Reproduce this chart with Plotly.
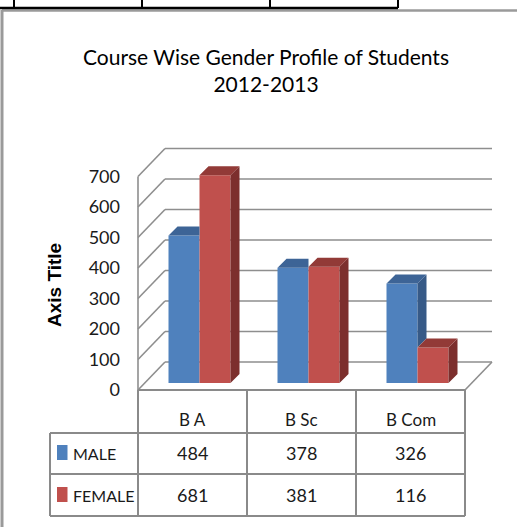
import plotly.graph_objects as go

# ---------------- data ----------------
categories = ["B A", "B Sc", "B Com"]
series_names = ["MALE", "FEMALE"]
male = [484, 378, 326]
female = [681, 381, 116]
y_ticks = [0, 100, 200, 300, 400, 500, 600, 700]
title_text = "Course Wise Gender Profile of Students<br>2012-2013"
axis_title = "Axis Title"

# ---------------- styles / geometry ----------------
NARROW = "Lato, Roboto, sans-serif"
BOLD_SANS = "Liberation Sans, Arial, sans-serif"
BLUE, BLUE_SIDE, BLUE_TOP = "#4F81BD", "#375A87", "#3D6496"
RED, RED_SIDE, RED_TOP = "#C0504D", "#7C2F2D", "#923A37"
GRID = "#8E8E8E"
TABLE = "#8A8A8A"
TXT = "#1a1a1a"

FIG_W, FIG_H = 517, 527
L, R, T, B = 124, 505, 140, 395
W, H = R - L, B - T
PX_PER_CAT = 109.0
PX_PER_VAL = 0.305
X0_PX = 138      # pixel of category edge -0.5
Y0_PX = 390      # pixel of value 0 on the front plane
xmin = -0.5 - (X0_PX - L) / PX_PER_CAT
xmax = xmin + W / PX_PER_CAT
ymin = -(B - Y0_PX) / PX_PER_VAL
ymax = ymin + H / PX_PER_VAL


def dx(p):
    return p / PX_PER_CAT


def dy(p):
    return p / PX_PER_VAL


def pxx(p):
    return (p - L) / W


def pxy(p):
    return (B - p) / H


DX, DY = dx(27), dy(28)          # depth of the 3-D box
SX, SY = dx(7), dy(7)            # front face of bars inside the box
BW = dx(31)                      # bar width
BDX, BDY = dx(9), dy(9)          # bar depth

n = len(categories)
fig = go.Figure()

# front faces
fig.add_trace(go.Bar(x=[i + SX for i in range(n)], y=male, base=SY, width=BW, offset=-BW,
                     marker=dict(color=BLUE, line=dict(width=0)), name=series_names[0],
                     showlegend=False))
fig.add_trace(go.Bar(x=[i + SX for i in range(n)], y=female, base=SY, width=BW, offset=0,
                     marker=dict(color=RED, line=dict(width=0)), name=series_names[1],
                     showlegend=False))


def poly_trace(xs, ys, color):
    return go.Scatter(x=xs, y=ys, mode="lines", fill="toself", fillcolor=color,
                      line=dict(width=0, color=color), hoverinfo="skip",
                      showlegend=False, cliponaxis=False)


# male side + top faces
msx, msy, mtx, mty = [], [], [], []
for i in range(n):
    xl = i + SX - BW
    xr = i + SX
    mv, fv = male[i], female[i]
    t = SY + mv
    if mv > fv:
        msx += [xr, xr + BDX, xr + BDX, xr, xr, None]
        msy += [SY + fv, SY + fv + BDY, t + BDY, t, SY + fv, None]
        mtx += [xl, xr, xr + BDX, xl + BDX, xl, None]
        mty += [t, t, t + BDY, t + BDY, t, None]
    else:
        mtx += [xl, xr, xr, xl + BDX, xl, None]
        mty += [t, t, t + BDY, t + BDY, t, None]
fig.add_trace(poly_trace(msx, msy, BLUE_SIDE))
fig.add_trace(poly_trace(mtx, mty, BLUE_TOP))

# female side + top faces
fsx, fsy, ftx, fty = [], [], [], []
for i in range(n):
    xl = i + SX
    xr = i + SX + BW
    t = SY + female[i]
    fsx += [xr, xr + BDX, xr + BDX, xr, xr, None]
    fsy += [SY, SY + BDY, t + BDY, t, SY, None]
    ftx += [xl, xr, xr + BDX, xl + BDX, xl, None]
    fty += [t, t, t + BDY, t + BDY, t, None]
fig.add_trace(poly_trace(fsx, fsy, RED_SIDE))
fig.add_trace(poly_trace(ftx, fty, RED_TOP))

shapes = []
xa, xb = -0.5, n - 0.5
top_v = y_ticks[-1]
# walls / gridlines
for v in y_ticks:
    shapes.append(dict(type="line", xref="x", yref="y", x0=xa + DX, y0=v + DY, x1=xb + DX, y1=v + DY,
                       line=dict(color=GRID, width=1.6), layer="below"))
    shapes.append(dict(type="line", xref="x", yref="y", x0=xa, y0=v, x1=xa + DX, y1=v + DY,
                       line=dict(color=GRID, width=1.6), layer="below"))
shapes.append(dict(type="line", xref="x", yref="y", x0=xa, y0=0, x1=xa, y1=top_v,
                   line=dict(color=GRID, width=1.6), layer="below"))
shapes.append(dict(type="line", xref="x", yref="y", x0=xb, y0=0, x1=xb + DX, y1=DY,
                   line=dict(color=GRID, width=1.6), layer="below"))


def pline(x0, y0, x1, y1, color=TABLE, width=2):
    shapes.append(dict(type="line", xref="paper", yref="paper", x0=pxx(x0), y0=pxy(y0),
                       x1=pxx(x1), y1=pxy(y1), line=dict(color=color, width=width)))


# data table
for yy in (433, 474, 516):
    pline(50, yy, 465, yy)
pline(138, 390, 465, 390)
for xx in (138, 247, 356, 465):
    pline(xx, 390, xx, 516)
pline(50, 433, 50, 516)

# surrounding page decorations
pline(2, 10.5, 517, 10.5, color="#9A9A9A", width=2.5)
pline(2, 10, 2, 527, color="#9A9A9A", width=3)
pline(0, 8, 398, 8, color="#000000", width=2.5)
for xx in (14, 142, 270, 398):
    pline(xx, 0, xx, 8, color="#000000", width=2)

# legend keys
for (yc, col) in ((452.5, BLUE), (494.5, RED)):
    shapes.append(dict(type="rect", xref="paper", yref="paper", x0=pxx(57), x1=pxx(67.5),
                       y0=pxy(yc - 7.5), y1=pxy(yc + 7.5), line=dict(width=0), fillcolor=col))

annotations = []


def ann(x, y, text, xref="paper", size=18, xanchor="center", family=NARROW, **kw):
    annotations.append(dict(x=x, y=y, xref=xref, yref="paper", text=text, showarrow=False,
                            xanchor=xanchor, yanchor="middle",
                            font=dict(family=family, size=size, color=kw.pop("color", TXT)), **kw))


for i, c in enumerate(categories):
    ann(i, pxy(419), c, xref="x", size=17)
for i, v in enumerate(male):
    ann(i, pxy(453), str(v), xref="x")
for i, v in enumerate(female):
    ann(i, pxy(495), str(v), xref="x")
for name, yc in zip(series_names, (453, 495)):
    ann(pxx(71), pxy(yc), name, xanchor="left", size=16)
ann(pxx(54), pxy(285), "<b>" + axis_title + "</b>", size=19, family=BOLD_SANS,
    textangle=-90, color="#000000")

fig.update_layout(
    width=FIG_W, height=FIG_H,
    margin=dict(l=L, r=FIG_W - R, t=T, b=FIG_H - B, pad=0),
    paper_bgcolor="white", plot_bgcolor="white",
    barmode="overlay",
    showlegend=False,
    title=dict(text=title_text, x=266 / FIG_W, xref="container", xanchor="center",
               y=1 - 65 / FIG_H, yref="container", yanchor="middle",
               font=dict(family=NARROW, size=21, color="#000000")),
    xaxis=dict(range=[xmin, xmax], showgrid=False, zeroline=False, showline=False,
               showticklabels=False, fixedrange=True),
    yaxis=dict(range=[ymin, ymax], showgrid=False, zeroline=False, showline=False,
               tickmode="array", tickvals=y_ticks, ticktext=[str(v) for v in y_ticks],
               ticks="", ticklabelstandoff=3,
               tickfont=dict(family=NARROW, size=18, color=TXT),
               fixedrange=True),
    shapes=shapes,
    annotations=annotations,
)

fig.write_html("out.html", config={"displayModeBar": False},
               post_script="document.body.style.margin='0px';")
